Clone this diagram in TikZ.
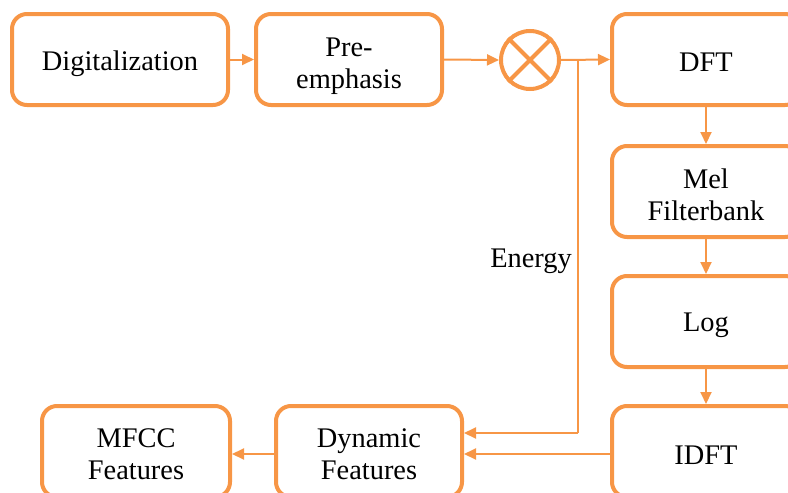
\documentclass[tikz,border=0pt]{standalone}
\usepackage{fontspec}
\setmainfont{Liberation Serif}
\usetikzlibrary{arrows.meta}
\definecolor{org}{HTML}{F79646}
\def\blkrh{26pt}
\begin{document}
\begin{tikzpicture}[x=1pt,y=-1pt,
  rh/.code={\def\blkrh{#1}},
  blk/.style={draw=org,line width=4pt,rounded corners=15pt,align=center,font=\fontsize{28.4}{32}\selectfont,inner sep=0pt,execute at begin node={\rule{0pt}{\blkrh}}},
  conn/.style={draw=org,line width=2pt,-{Triangle[length=12pt,width=11pt]}},
  wire/.style={draw=org,line width=2pt}]
\useasboundingbox (0,0) rectangle (788,493);
\clip (0,0) rectangle (788,493);
\node[blk,rh=29pt,minimum width=216pt,minimum height=91pt] (dig) at (120,59.5) {Digitalization};
\node[blk,rh=64pt,minimum width=186pt,minimum height=91pt] (pre) at (349,59.5) {Pre-\\emphasis};
\node[draw=org,line width=4pt,circle,minimum size=58pt,inner sep=0pt] (mul) at (530,60) {};
\draw[draw=org,line width=4pt] (mul.north west) -- (mul.south east) (mul.north east) -- (mul.south west);
\node[blk,rh=25pt,minimum width=188pt,minimum height=91pt] (dft) at (706,59.5) {DFT};
\node[blk,rh=59pt,minimum width=188pt,minimum height=91pt] (mel) at (706,191.5) {Mel\\Filterbank};
\node[blk,minimum width=188pt,minimum height=91pt] (log) at (706,321.5) {Log};
\node[blk,minimum width=188pt,minimum height=91pt] (idft) at (706,451.5) {IDFT};
\node[blk,rh=56pt,minimum width=186pt,minimum height=91pt] (dyn) at (369,451.5) {Dynamic\\Features};
\node[blk,rh=56pt,minimum width=188pt,minimum height=91pt] (mfcc) at (136,451.5) {MFCC\\Features};
\coordinate (j) at (578,60);
\coordinate (jb) at (578,433);
\node[font=\fontsize{28.4}{32}\selectfont,anchor=east,inner sep=0pt] (en) at (572,261) {Energy};
\draw[conn] (dig.east) -- (pre.west);
\draw[conn] (pre.east) -- (mul.west);
\draw[conn] (mul.east) -- (dft.west);
\draw[conn] (dft.south) -- (mel.north);
\draw[conn] (mel.south) -- (log.north);
\draw[conn] (log.south) -- (idft.north);
\draw[wire] (j) -- (jb);
\draw[conn] (jb) -- (dyn.east |- jb);
\draw[conn] (idft.west |- 0,454) -- (dyn.east |- 0,454);
\draw[conn] (dyn.west |- 0,454) -- (mfcc.east |- 0,454);
\end{tikzpicture}
\end{document}
